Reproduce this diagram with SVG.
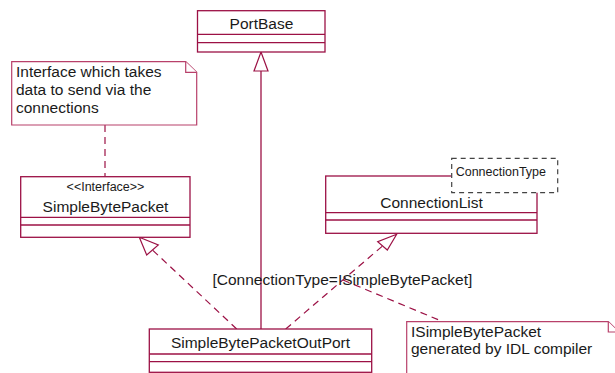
<svg xmlns="http://www.w3.org/2000/svg" width="615" height="373" viewBox="0 0 615 373">
<style>
.box{fill:#fff;stroke:#9c1145;stroke-width:1.3}
.ln{stroke:#9c1145;stroke-width:1.3;fill:none}
.dash{stroke:#9c1145;stroke-width:1.2;fill:none;stroke-dasharray:7 5}
.head{fill:#fff;stroke:#9c1145;stroke-width:1.2}
.note{fill:#fff;stroke:#b8406a;stroke-width:1.2}
.t{font-family:"Liberation Sans",Arial,sans-serif;font-size:15.5px;fill:#1a1a1a}
.c{text-anchor:middle}
.s{font-size:12.5px}
.tmpl{fill:#fff;stroke:#444;stroke-width:1.2;stroke-dasharray:5 4}
</style>
<g id="connectors">
<line class="ln" x1="261" y1="71" x2="261" y2="329"/>
<polygon class="head" points="261,52 254,71 268,71"/>
<line class="dash" x1="236.7" y1="329" x2="152.5" y2="250"/>
<polygon class="head" points="139.3,237.3 146.7,255 158.3,245"/>
<line class="dash" x1="285.7" y1="329" x2="382.5" y2="246"/>
<polygon class="head" points="396.7,234.3 377.7,241.7 387.3,250"/>
<line class="dash" x1="105" y1="125" x2="105" y2="176.7"/>
<line class="dash" x1="343" y1="280" x2="443" y2="321.7"/>
<text class="t" x="212.5" y="285">[ConnectionType=ISimpleBytePacket]</text>
</g>
<g id="PortBase">
<rect class="box" x="197.5" y="10.7" width="127.5" height="41.3"/>
<line class="ln" x1="197.5" y1="34.3" x2="325" y2="34.3"/>
<line class="ln" x1="197.5" y1="42.7" x2="325" y2="42.7"/>
<text class="t c" x="261.5" y="29">PortBase</text>
</g>
<g id="note1">
<path class="note" d="M11.7,61.7 H185.7 L196.7,72.3 V125 H11.7 Z"/>
<path class="note" d="M185.7,61.7 V72.3 H196.7"/>
<text class="t" x="16" y="77">Interface which takes</text>
<text class="t" x="16" y="95">data to send via the</text>
<text class="t" x="16" y="113">connections</text>
</g>
<g id="SimpleBytePacket">
<rect class="box" x="20.7" y="176.7" width="169.3" height="60.6"/>
<line class="ln" x1="20.7" y1="217.3" x2="190" y2="217.3"/>
<line class="ln" x1="20.7" y1="225" x2="190" y2="225"/>
<text class="t c s" x="105.5" y="190.5">&lt;&lt;Interface&gt;&gt;</text>
<text class="t c" x="105.5" y="211.5">SimpleBytePacket</text>
</g>
<g id="ConnectionList">
<rect class="box" x="325.7" y="176" width="211.3" height="57.3"/>
<line class="ln" x1="325.7" y1="212.7" x2="537" y2="212.7"/>
<line class="ln" x1="325.7" y1="220" x2="537" y2="220"/>
<text class="t c" x="431.5" y="208">ConnectionList</text>
<rect class="tmpl" x="451.7" y="158.3" width="106" height="34.4"/>
<text class="t s" x="455.7" y="176">ConnectionType</text>
</g>
<g id="SimpleBytePacketOutPort">
<rect class="box" x="149.3" y="329" width="222.4" height="43.3"/>
<line class="ln" x1="149.3" y1="354" x2="371.7" y2="354"/>
<line class="ln" x1="149.3" y1="361.7" x2="371.7" y2="361.7"/>
<text class="t c" x="260.5" y="348">SimpleBytePacketOutPort</text>
</g>
<g id="note2">
<path class="note" d="M406.7,321.7 H608.3 L619,332 V380 H406.7 Z"/>
<path class="note" d="M608.3,321.7 V332 H619"/>
<text class="t" x="411" y="336.5">ISimpleBytePacket</text>
<text class="t" x="411" y="354">generated by IDL compiler</text>
</g>
</svg>
